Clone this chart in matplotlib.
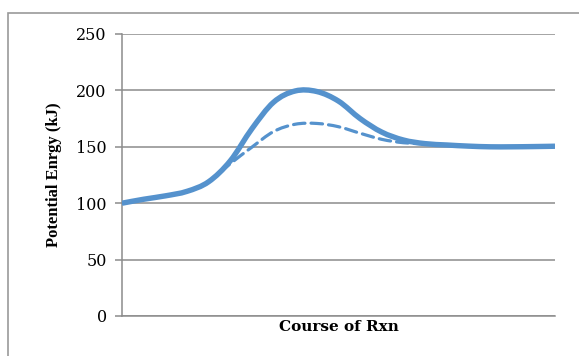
import matplotlib
matplotlib.use('Agg')
import matplotlib.pyplot as plt
from matplotlib.patches import Rectangle, PathPatch
from matplotlib.path import Path

# reaction coordinate: 21 evenly spaced steps, energies
steps = list(range(21))
e_uncat = [100, 103.5, 106.5, 110.5, 119, 137.5, 166, 189.5, 199.5, 199, 190.5,
           175, 163, 156, 152.8, 151.6, 150.6, 150, 150, 150.2, 150.5]
e_cat = [100, 103.5, 106.5, 110.5, 119, 135, 149.7, 163.5, 170, 170.7, 167.8,
         162, 156.6, 153.6, 152.6, 151.6, 150.6, 150, 150, 150.2, 150.5]

y_ticks = [0, 50, 100, 150, 200, 250]
BLUE = '#5592CD'
GRID = '#8C8C8C'


def smooth_path(xs, ys):
    # Excel-style smoothed line: Catmull-Rom segments as cubic Beziers
    pts = list(zip(xs, ys))
    n = len(pts)
    verts = [pts[0]]
    codes = [Path.MOVETO]
    for i in range(n - 1):
        p0 = pts[i - 1] if i > 0 else pts[i]
        p1 = pts[i]
        p2 = pts[i + 1]
        p3 = pts[i + 2] if i + 2 < n else pts[i + 1]
        c1 = (p1[0] + (p2[0] - p0[0]) / 6, p1[1] + (p2[1] - p0[1]) / 6)
        c2 = (p2[0] - (p3[0] - p1[0]) / 6, p2[1] - (p3[1] - p1[1]) / 6)
        verts += [c1, c2, p2]
        codes += [Path.CURVE4] * 3
    return Path(verts, codes)


fig = plt.figure(figsize=(5.79, 3.56), dpi=100)
fig.patches.append(Rectangle((8 / 579, -0.1), 2.0, 1.1 - 13 / 356,
                             transform=fig.transFigure, fill=False,
                             edgecolor='#9A9A9A', linewidth=1.2))
ax = fig.add_axes([122 / 579, 1 - 316 / 356, (555 - 122) / 579, (316 - 34) / 356])

ax.add_patch(PathPatch(smooth_path(steps, e_cat), facecolor='none', edgecolor=BLUE,
                       linewidth=2.3, linestyle=(0, (3.6, 1.9)), capstyle='round',
                       zorder=3))
ax.add_patch(PathPatch(smooth_path(steps, e_uncat), facecolor='none', edgecolor=BLUE,
                       linewidth=3.9, joinstyle='round', capstyle='butt', zorder=4))

ax.set_xlim(steps[0], steps[-1])
ax.set_ylim(0, 250)
ax.set_yticks(y_ticks)
ax.set_xticks([])
ax.yaxis.grid(True, color=GRID, linewidth=1.1)
ax.set_axisbelow(True)
for s in ('top', 'right'):
    ax.spines[s].set_visible(False)
ax.spines['left'].set_color(GRID)
ax.spines['bottom'].set_color(GRID)
ax.spines['left'].set_linewidth(1.1)
ax.spines['bottom'].set_linewidth(1.1)
ax.tick_params(axis='y', length=5, width=1.1, color=GRID, pad=6, labelsize=11.5)
for lab in ax.get_yticklabels():
    lab.set_fontfamily('DejaVu Serif')

ax.set_ylabel('Potential Enrgy (kJ)', fontfamily='Liberation Serif', fontweight='bold',
              fontsize=12, labelpad=10)
ax.set_xlabel('Course of Rxn', fontfamily='DejaVu Serif', fontweight='bold',
              fontsize=11, labelpad=3)

fig.savefig('out.png', dpi=100)
